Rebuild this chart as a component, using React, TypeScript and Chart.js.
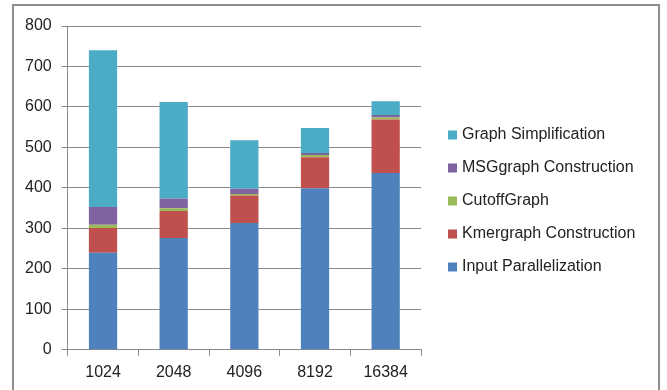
import React, { useEffect, useRef } from "react";
import { Chart, registerables } from "chart.js";

Chart.register(...registerables);

const categories = ["1024", "2048", "4096", "8192", "16384"];
const inputParallelization = [240, 276, 313, 399, 437];
const kmergraphConstruction = [61, 67, 68, 77, 132];
const cutoffGraph = [8, 7, 4, 5, 5];
const msgGraphConstruction = [44, 24, 13, 5, 6];
const graphSimplification = [387, 238, 120, 62, 34];

const FONT = "'Liberation Sans', Arial, sans-serif";

const framePlugin = {
  id: "frame",
  beforeDraw(chart: any) {
    const ctx = chart.ctx;
    ctx.save();
    ctx.fillStyle = "#ffffff";
    ctx.fillRect(0, 0, chart.width, chart.height);
    ctx.strokeStyle = "#8e8e8e";
    ctx.lineWidth = 2;
    ctx.strokeRect(13, 5, 646, 400);
    ctx.restore();
  },
};

const legendPlugin = {
  id: "customLegend",
  afterDraw(chart: any) {
    const ctx = chart.ctx;
    const area = chart.chartArea;
    const ds = chart.data.datasets.slice().reverse();
    const x = area.right + 27;
    const y0 = area.top + 109;
    const step = 33;
    ctx.save();
    ctx.font = `16px ${FONT}`;
    ctx.textBaseline = "middle";
    ctx.textAlign = "left";
    ds.forEach((d: any, i: number) => {
      const y = y0 + i * step;
      ctx.fillStyle = d.backgroundColor;
      ctx.fillRect(x, y - 4.5, 9, 9);
      ctx.fillStyle = "#222";
      ctx.fillText(d.label, x + 14, y);
    });
    ctx.restore();
  },
};

export default function App() {
  const ref = useRef<HTMLCanvasElement>(null);
  useEffect(() => {
    if (!ref.current) return;
    const chart = new Chart(ref.current, {
      type: "bar",
      data: {
        labels: categories,
        datasets: [
          { label: "Input Parallelization", data: inputParallelization, backgroundColor: "#4F81BD" },
          { label: "Kmergraph Construction", data: kmergraphConstruction, backgroundColor: "#C0504D" },
          { label: "CutoffGraph", data: cutoffGraph, backgroundColor: "#9BBB59" },
          { label: "MSGgraph Construction", data: msgGraphConstruction, backgroundColor: "#8064A2" },
          { label: "Graph Simplification", data: graphSimplification, backgroundColor: "#4BACC6" },
        ],
      },
      options: {
        animation: false,
        responsive: true,
        maintainAspectRatio: false,
        layout: { padding: { left: 15, right: 246, top: 26, bottom: 1 } },
        datasets: { bar: { barPercentage: 0.4, categoryPercentage: 1 } },
        plugins: {
          legend: { display: false },
          tooltip: { enabled: false },
        },
        scales: {
          x: {
            stacked: true,
            grid: { display: true, drawOnChartArea: false, drawTicks: true, tickLength: 6, color: "#8a8a8a", offset: true },
            border: { display: true, color: "#8a8a8a" },
            ticks: { font: { family: FONT, size: 16 }, color: "#222", padding: 7 },
          },
          y: {
            stacked: true,
            min: 0,
            max: 800,
            ticks: { stepSize: 100, font: { family: FONT, size: 16 }, color: "#222", padding: 10 },
            grid: { color: "#8a8a8a", tickLength: 6 },
            border: { display: true, color: "#8a8a8a" },
          },
        },
      },
      plugins: [framePlugin, legendPlugin],
    });
    return () => chart.destroy();
  }, []);
  return (
    <div style={{ position: "absolute", left: 0, top: 0, width: 667, height: 390 }}>
      <canvas ref={ref} />
    </div>
  );
}
